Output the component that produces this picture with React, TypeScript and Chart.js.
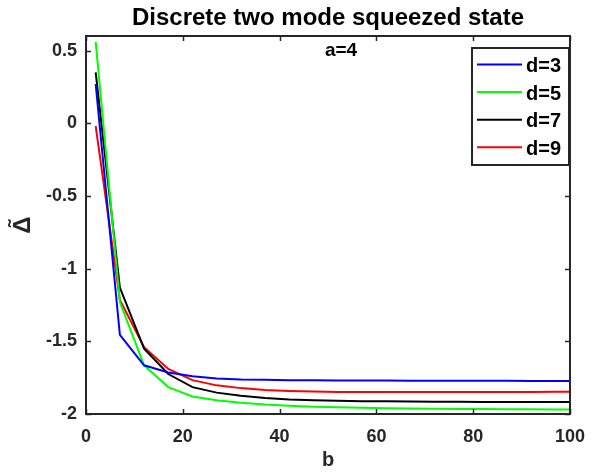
import React, { useEffect, useRef } from "react";
import { Chart, registerables } from "chart.js";

Chart.register(...registerables);

const bValues = [2, 7, 12, 17, 22, 27, 32, 37, 42, 47, 52, 57, 62, 67, 72, 77, 82, 87, 92, 97, 102];
const d3 = [0.27, -1.455, -1.665, -1.715, -1.74, -1.755, -1.762, -1.765, -1.767, -1.768, -1.769, -1.77, -1.77, -1.771, -1.771, -1.772, -1.772, -1.772, -1.773, -1.773, -1.773];
const d5 = [0.56, -1.23, -1.665, -1.815, -1.879, -1.905, -1.922, -1.935, -1.944, -1.95, -1.954, -1.957, -1.96, -1.962, -1.964, -1.965, -1.966, -1.967, -1.968, -1.969, -1.97];
const d7 = [0.35, -1.13, -1.55, -1.725, -1.815, -1.853, -1.875, -1.89, -1.9, -1.905, -1.909, -1.912, -1.913, -1.914, -1.915, -1.916, -1.917, -1.917, -1.918, -1.918, -1.918];
const d9 = [-0.02, -1.215, -1.54, -1.69, -1.767, -1.803, -1.822, -1.835, -1.842, -1.846, -1.848, -1.849, -1.849, -1.849, -1.849, -1.848, -1.848, -1.848, -1.848, -1.847, -1.847];

const seriesLabels = ["d=3", "d=5", "d=7", "d=9"];
const seriesColors = ["#0000ff", "#00ff00", "#000000", "#ff0000"];
const xTicks = [0, 20, 40, 60, 80, 100];
const yTicks = [-2, -1.5, -1, -0.5, 0, 0.5];
const titleText = "Discrete two mode squeezed state";
const annotationText = "a=4";
const xTitle = "b";
const yTitle = "\u0394\u0303";

const FONT = "'Liberation Sans', Arial, Helvetica, sans-serif";
const AXIS = "#262626";

const framePlugin = {
  id: "frame",
  afterDraw(chart: any) {
    const { ctx, chartArea } = chart;
    const { left, right, top, bottom } = chartArea;
    const xs = chart.scales.x;
    const ys = chart.scales.y;
    ctx.save();
    ctx.strokeStyle = AXIS;
    ctx.lineWidth = 1.5;
    const tl = 5;
    ctx.beginPath();
    xTicks.forEach((v) => {
      const px = Math.round(xs.getPixelForValue(v)) + 0.5;
      ctx.moveTo(px, bottom);
      ctx.lineTo(px, bottom - tl);
      ctx.moveTo(px, top);
      ctx.lineTo(px, top + tl);
    });
    yTicks.forEach((v) => {
      const py = Math.round(ys.getPixelForValue(v)) + 0.5;
      ctx.moveTo(left, py);
      ctx.lineTo(left + tl, py);
      ctx.moveTo(right, py);
      ctx.lineTo(right - tl, py);
    });
    ctx.stroke();
    ctx.lineWidth = 2;
    ctx.strokeRect(left, top, right - left, bottom - top);

    // title
    ctx.fillStyle = "#000";
    ctx.font = `bold 24px ${FONT}`;
    ctx.textAlign = "center";
    ctx.textBaseline = "middle";
    ctx.fillText(titleText, (left + right) / 2, 18);

    // annotation
    ctx.font = `bold 19px ${FONT}`;
    ctx.fillText(annotationText, 341, 51);

    // legend
    const lx = 472, ly = 48, lw = 97, lh = 117;
    ctx.fillStyle = "#fff";
    ctx.fillRect(lx, ly, lw, lh);
    ctx.strokeStyle = AXIS;
    ctx.lineWidth = 2;
    ctx.strokeRect(lx, ly, lw, lh);
    const rows = [64.5, 92, 119.7, 147.3];
    ctx.font = `bold 20px ${FONT}`;
    ctx.textAlign = "left";
    ctx.textBaseline = "middle";
    seriesLabels.forEach((lab, i) => {
      ctx.strokeStyle = seriesColors[i];
      ctx.lineWidth = 2;
      ctx.beginPath();
      ctx.moveTo(477, rows[i]);
      ctx.lineTo(522, rows[i]);
      ctx.stroke();
      ctx.fillStyle = "#000";
      ctx.fillText(lab, 526, rows[i] + 2);
    });
    ctx.restore();
  },
};

export default function App() {
  const ref = useRef<HTMLCanvasElement | null>(null);
  useEffect(() => {
    if (!ref.current) return;
    const seriesData = [d3, d5, d7, d9];
    const chart = new Chart(ref.current, {
      type: "line",
      data: {
        datasets: seriesData.map((arr, i) => ({
          label: seriesLabels[i],
          data: bValues.map((b, j) => ({ x: b, y: arr[j] })),
          borderColor: seriesColors[i],
          backgroundColor: seriesColors[i],
          borderWidth: 2,
          pointRadius: 0,
          tension: 0,
          fill: false,
        })),
      },
      options: {
        responsive: false,
        animation: false,
        layout: { padding: { top: 36, right: 17, left: 0, bottom: 0 } },
        plugins: {
          legend: { display: false },
          title: { display: false },
          tooltip: { enabled: false },
        },
        scales: {
          x: {
            type: "linear",
            min: 0,
            max: 100,
            afterBuildTicks: (s: any) => {
              s.ticks = xTicks.map((v) => ({ value: v }));
            },
            afterFit: (s: any) => {
              s.height = 58;
            },
            grid: { display: false, drawTicks: false },
            border: { display: false },
            ticks: {
              padding: 12,
              color: AXIS,
              font: { family: FONT, size: 18, weight: "bold" },
              callback: (v: any) => String(v),
              maxRotation: 0,
            },
            title: {
              display: true,
              text: xTitle,
              color: AXIS,
              font: { family: FONT, size: 20, weight: "bold" },
              padding: { top: 0, bottom: 0 },
            },
          },
          y: {
            type: "linear",
            min: -2,
            max: 0.6,
            afterBuildTicks: (s: any) => {
              s.ticks = yTicks.map((v) => ({ value: v }));
            },
            afterFit: (s: any) => {
              s.width = 86;
            },
            grid: { display: false, drawTicks: false },
            border: { display: false },
            ticks: {
              padding: 9,
              color: AXIS,
              font: { family: FONT, size: 18, weight: "bold" },
              callback: (v: any) => String(v),
            },
            title: {
              display: true,
              text: yTitle,
              color: AXIS,
              font: { family: FONT, size: 24, weight: "bold" },
              padding: { top: 9, bottom: 0 },
            },
          },
        },
      },
      plugins: [framePlugin],
    });
    return () => chart.destroy();
  }, []);
  return (
    <div style={{ position: "fixed", left: 0, top: 0, width: 597, height: 472, background: "#fff" }}>
      <canvas ref={ref} width={597} height={472} style={{ display: "block" }} />
    </div>
  );
}
